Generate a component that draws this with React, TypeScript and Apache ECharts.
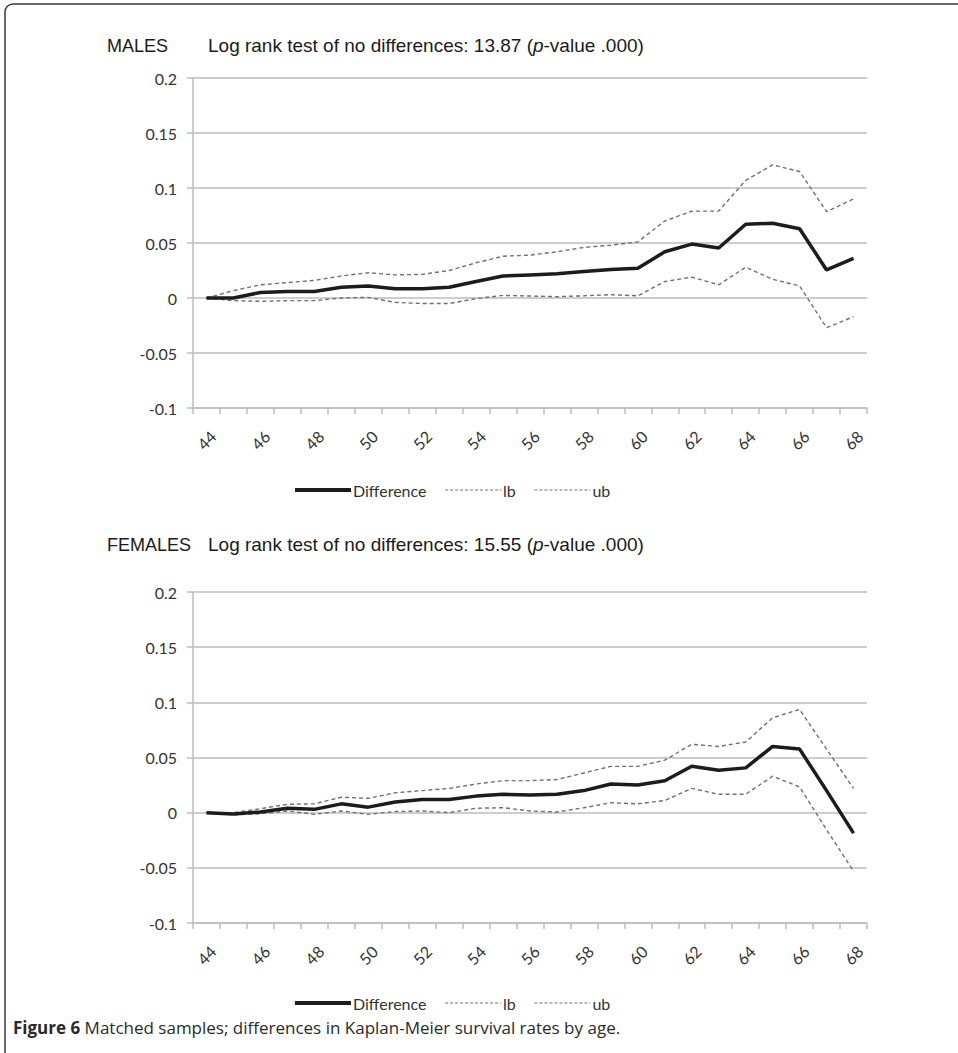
import React, { useEffect, useRef } from "react";
import * as echarts from "echarts";

const ages = ["44","45","46","47","48","49","50","51","52","53","54","55","56","57","58","59","60","61","62","63","64","65","66","67","68"];
const yTicks = { min: -0.1, max: 0.2, interval: 0.05 };

const maleDiff = [0, 0, 0.005, 0.006, 0.006, 0.0097, 0.011, 0.0085, 0.0085, 0.0097, 0.015, 0.02, 0.021, 0.022, 0.024, 0.026, 0.027, 0.042, 0.049, 0.0455, 0.067, 0.068, 0.063, 0.0255, 0.036];
const maleLb = [0, -0.0024, -0.003, -0.0024, -0.0024, 0, 0.0006, -0.004, -0.005, -0.005, -0.0006, 0.0024, 0.0018, 0.0012, 0.002, 0.003, 0.002, 0.015, 0.019, 0.012, 0.028, 0.017, 0.011, -0.027, -0.017];
const maleUb = [0, 0.0067, 0.012, 0.014, 0.016, 0.02, 0.023, 0.021, 0.0215, 0.025, 0.032, 0.038, 0.039, 0.042, 0.046, 0.048, 0.051, 0.07, 0.079, 0.079, 0.107, 0.121, 0.115, 0.0785, 0.09];

const femaleDiff = [0, -0.0012, 0.0006, 0.004, 0.003, 0.008, 0.005, 0.0097, 0.012, 0.012, 0.015, 0.0167, 0.016, 0.0167, 0.02, 0.026, 0.025, 0.029, 0.042, 0.0385, 0.0406, 0.06, 0.0576, 0.02, -0.0185];
const femaleLb = [0, -0.002, -0.001, 0.0015, -0.0015, 0.0015, -0.0015, 0.001, 0.0015, 0, 0.004, 0.0045, 0.0015, 0.0006, 0.0045, 0.009, 0.008, 0.011, 0.022, 0.0167, 0.0167, 0.033, 0.0233, -0.0155, -0.053];
const femaleUb = [0, 0, 0.0036, 0.0076, 0.008, 0.014, 0.013, 0.018, 0.02, 0.022, 0.026, 0.029, 0.029, 0.03, 0.036, 0.042, 0.042, 0.0476, 0.062, 0.06, 0.064, 0.086, 0.0936, 0.0576, 0.022];

const panelTitles = ["MALES", "FEMALES"];
const testStats = ["13.87", "15.55"];
const legendNames = ["Difference", "lb", "ub"];
const caption = "Matched samples; differences in Kaplan-Meier survival rates by age.";

const GRID_LINE = "#bdbdbd";
const LABEL = "#333";
const AXIS_FONT = "Lato, 'Noto Sans', sans-serif";
const TITLE_FONT = "'Liberation Sans', Arial, sans-serif";

export default function App() {
  const ref = useRef<HTMLDivElement>(null);
  useEffect(() => {
    document.body.style.margin = "0";
    const chart = echarts.init(ref.current!, null, { renderer: "svg" });
    const grids = [
      { left: 193, width: 674, top: 78, height: 330 },
      { left: 193, width: 674, top: 592, height: 331 },
    ];
    const xAxes = grids.map((_, i) => ({
      type: "category",
      gridIndex: i,
      data: ages,
      boundaryGap: true,
      axisLine: { onZero: false, lineStyle: { color: GRID_LINE, width: 1.5 } },
      axisTick: { show: true, interval: 0, length: 6, lineStyle: { color: GRID_LINE, width: 1.5 } },
      axisLabel: {
        interval: 1,
        rotate: 45,
        align: "center",
        verticalAlign: "middle",
        margin: 32,
        fontSize: 16,
        color: LABEL,
        fontFamily: AXIS_FONT,
      },
      splitLine: { show: false },
    }));
    const yAxes = grids.map((_, i) => ({
      type: "value",
      gridIndex: i,
      min: yTicks.min,
      max: yTicks.max,
      interval: yTicks.interval,
      axisLine: { show: true, lineStyle: { color: GRID_LINE, width: 1.5 } },
      axisTick: { show: true, length: 6, lineStyle: { color: GRID_LINE, width: 1.5 } },
      axisLabel: {
        margin: 16,
        fontSize: 16,
        color: LABEL,
        fontFamily: AXIS_FONT,
        formatter: (v: number) => String(Math.round(v * 100) / 100),
      },
      splitLine: { show: true, lineStyle: { color: GRID_LINE, width: 1.5 } },
    }));
    const sets = [
      [maleDiff, maleLb, maleUb],
      [femaleDiff, femaleLb, femaleUb],
    ];
    const series: any[] = [];
    sets.forEach((set, gi) => {
      set.forEach((data, si) => {
        series.push({
          type: "line",
          name: legendNames[si],
          xAxisIndex: gi,
          yAxisIndex: gi,
          data,
          symbol: "none",
          z: si === 0 ? 3 : 2,
          lineStyle:
            si === 0
              ? { color: "#1c1c1c", width: 3.5, type: "solid" }
              : { color: "#707070", width: 1.4, type: [4, 3] },
          itemStyle: { color: si === 0 ? "#1c1c1c" : "#707070" },
        });
      });
    });
    const legendTops = [477, 990];
    const legends = legendTops.map((t) => ({
      data: legendNames.map((n, k) => ({
        name: n,
        lineStyle: k === 0 ? { width: 4, color: "#1c1c1c" } : { width: 1.2, color: "#707070", type: [3, 2] },
      })),
      left: 288,
      top: t,
      itemWidth: 56,
      itemHeight: 10,
      itemGap: 18,
      itemStyle: { opacity: 0 },
      textStyle: { fontSize: 16, color: LABEL, fontFamily: AXIS_FONT, padding: [0, 0, 0, -3] },
    }));
    const titleTops = [36, 535];
    const graphics: any[] = [
      {
        type: "rect",
        shape: { x: 5, y: 4, width: 1000, height: 1100, r: [8, 0, 0, 0] },
        style: { fill: "none", stroke: "#3a3a3a", lineWidth: 1.5 },
        silent: true,
      },
    ];
    titleTops.forEach((t, i) => {
      graphics.push({
        type: "text",
        left: 107,
        top: t + 1,
        style: { text: panelTitles[i], fontSize: 18, fill: "#1a1a1a", fontFamily: TITLE_FONT },
      });
      graphics.push({
        type: "text",
        left: 208,
        top: t,
        style: {
          text: "Log rank test of no differences: " + testStats[i] + " ({it|p}-value .000)",
          fontSize: 19,
          fill: "#1a1a1a",
          fontFamily: TITLE_FONT,
          rich: { it: { fontStyle: "italic", fontSize: 19, fill: "#1a1a1a", fontFamily: TITLE_FONT } },
        },
      });
    });
    graphics.push({
      type: "text",
      left: 13,
      top: 1019,
      style: {
        text: "{b|Figure 6} " + caption,
        fontSize: 17,
        fill: "#2a2a2a",
        fontFamily: "'Open Sans', sans-serif",
        rich: { b: { fontWeight: "bold", fontSize: 17, fill: "#2a2a2a", fontFamily: "'Open Sans', sans-serif" } },
      },
    });
    chart.setOption({
      animation: false,
      backgroundColor: "#ffffff",
      grid: grids,
      xAxis: xAxes,
      yAxis: yAxes,
      legend: legends,
      series,
      graphic: graphics,
    });
    return () => chart.dispose();
  }, []);
  return <div ref={ref} style={{ position: "absolute", left: 0, top: 0, width: 958, height: 1053 }} />;
}
